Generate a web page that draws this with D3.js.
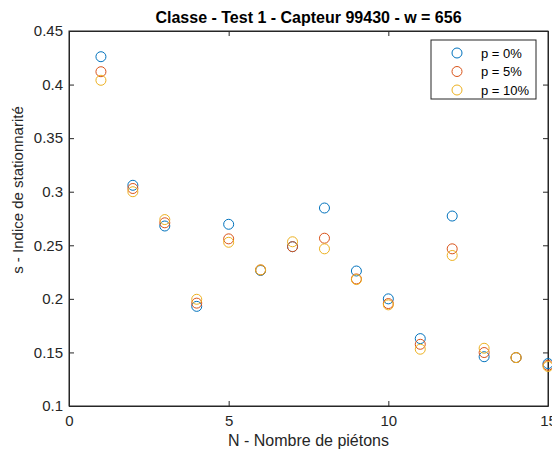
<!DOCTYPE html>
<html>
<head>
<meta charset="utf-8">
<script src="https://cdn.jsdelivr.net/npm/d3@7"></script>
<style>
  html, body { margin: 0; padding: 0; background: #fff; }
  svg { display: block; font-family: "Liberation Sans", Arial, Helvetica, sans-serif; }
</style>
</head>
<body>
<svg id="chart" width="552" height="455"></svg>
<script>
// Number of pedestrians
const pedestrians = [1, 2, 3, 4, 5, 6, 7, 8, 9, 10, 11, 12, 13, 14, 15];

// Stationarity index for each noise level p
const seriesP0  = [0.426, 0.306, 0.268, 0.193, 0.2696, 0.2265, 0.2487, 0.2848, 0.226, 0.200, 0.1629, 0.2773, 0.146, 0.1452, 0.1396];
const seriesP5  = [0.412, 0.303, 0.271, 0.196, 0.256, 0.227, 0.2487, 0.2566, 0.2186, 0.1956, 0.1576, 0.2467, 0.1499, 0.1452, 0.138];
const seriesP10 = [0.404, 0.300, 0.274, 0.1996, 0.2528, 0.227, 0.2533, 0.2467, 0.218, 0.1944, 0.153, 0.2405, 0.1539, 0.1452, 0.1369];

const seriesNames = ["p = 0%", "p = 5%", "p = 10%"];
const seriesColors = ["#0072BD", "#D95319", "#EDB120"];

const xTicks = [0, 5, 10, 15];
const yTicks = [0.1, 0.15, 0.2, 0.25, 0.3, 0.35, 0.4, 0.45];

const svg = d3.select("#chart");
const plot = { left: 69, right: 548, top: 31, bottom: 406 };
const axisColor = "#262626";

const x = d3.scaleLinear().domain([0, 15]).range([plot.left, plot.right]);
const y = d3.scaleLinear().domain([0.1, 0.45]).range([plot.bottom, plot.top]);

// Box outline
svg.append("rect")
  .attr("x", plot.left).attr("y", plot.top)
  .attr("width", plot.right - plot.left).attr("height", plot.bottom - plot.top)
  .attr("fill", "#fff").attr("stroke", axisColor).attr("stroke-width", 1);

const tickLen = 5;
const fmtY = d => String(+d.toFixed(2));

// Bottom and left axes with labels, ticks pointing inward
const xAxis = svg.append("g").attr("transform", `translate(0,${plot.bottom})`)
  .call(d3.axisBottom(x).tickValues(xTicks).tickSizeInner(-tickLen).tickSizeOuter(0).tickPadding(9).tickFormat(d3.format("d")));
const yAxis = svg.append("g").attr("transform", `translate(${plot.left},0)`)
  .call(d3.axisLeft(y).tickValues(yTicks).tickSizeInner(-tickLen).tickSizeOuter(0).tickPadding(6).tickFormat(fmtY));
// Top and right axes: ticks only
const xAxisTop = svg.append("g").attr("transform", `translate(0,${plot.top})`)
  .call(d3.axisTop(x).tickValues(xTicks).tickSizeInner(-tickLen).tickSizeOuter(0).tickFormat(""));
const yAxisRight = svg.append("g").attr("transform", `translate(${plot.right},0)`)
  .call(d3.axisRight(y).tickValues(yTicks).tickSizeInner(-tickLen).tickSizeOuter(0).tickFormat(""));

[xAxis, yAxis, xAxisTop, yAxisRight].forEach(g => {
  g.select(".domain").attr("stroke", axisColor);
  g.selectAll(".tick line").attr("stroke", axisColor);
  g.selectAll(".tick text").attr("fill", axisColor).attr("font-size", 15)
    .attr("font-family", "Liberation Sans, Arial, sans-serif");
});
xAxis.selectAll(".tick text").attr("dy", "0.71em");

// Scatter markers
const allSeries = [seriesP0, seriesP5, seriesP10];
allSeries.forEach((vals, i) => {
  svg.append("g").selectAll("circle")
    .data(pedestrians.map((n, j) => ({ n, v: vals[j] })))
    .join("circle")
    .attr("cx", d => x(d.n))
    .attr("cy", d => y(d.v))
    .attr("r", 5)
    .attr("fill", "none")
    .attr("stroke", seriesColors[i])
    .attr("stroke-width", 1);
});

// Title
svg.append("text")
  .attr("x", (plot.left + plot.right) / 2).attr("y", 23)
  .attr("text-anchor", "middle")
  .attr("font-size", 16).attr("font-weight", "bold").attr("fill", "#000")
  .text("Classe - Test 1 - Capteur 99430 - w = 656");

// Axis labels
svg.append("text")
  .attr("x", (plot.left + plot.right) / 2).attr("y", 446)
  .attr("text-anchor", "middle")
  .attr("font-size", 16).attr("fill", axisColor)
  .text("N - Nombre de piétons");

svg.append("text")
  .attr("transform", `translate(23,190) rotate(-90)`)
  .attr("text-anchor", "middle")
  .attr("font-size", 15).attr("fill", axisColor)
  .text("s - Indice de stationnarité");

// Legend
const legend = svg.append("g");
legend.append("rect")
  .attr("x", 431).attr("y", 40).attr("width", 105).attr("height", 59)
  .attr("fill", "#fff").attr("stroke", axisColor).attr("stroke-width", 1);
seriesNames.forEach((name, i) => {
  const ly = 53 + i * 18.5;
  legend.append("circle")
    .attr("cx", 457).attr("cy", ly).attr("r", 5)
    .attr("fill", "none").attr("stroke", seriesColors[i]).attr("stroke-width", 1);
  legend.append("text")
    .attr("x", 481).attr("y", ly).attr("dy", "0.35em")
    .attr("font-size", 13).attr("fill", "#000")
    .text(name);
});
</script>
</body>
</html>
